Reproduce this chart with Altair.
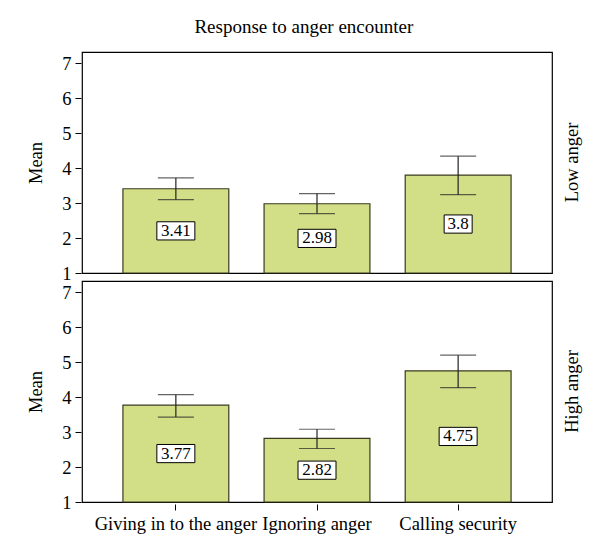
import altair as alt
import pandas as pd

categories = ["Giving in to the anger", "Ignoring anger", "Calling security"]
conditions = ["Low anger", "High anger"]

low_means = [3.41, 2.98, 3.80]
low_lo = [3.10, 2.70, 3.24]
low_hi = [3.72, 3.27, 4.34]
low_labels = ["3.41", "2.98", "3.8"]

high_means = [3.77, 2.82, 4.75]
high_lo = [3.43, 2.53, 4.27]
high_hi = [4.07, 3.08, 5.20]
high_labels = ["3.77", "2.82", "4.75"]

rows = []
for cond, means, los, his, labs in [
    ("Low anger", low_means, low_lo, low_hi, low_labels),
    ("High anger", high_means, high_lo, high_hi, high_labels),
]:
    for c, m, lo, hi, lab in zip(categories, means, los, his, labs):
        mid = (1 + m) / 2
        rows.append(dict(cat=c, cond=cond, mean=m, lo=lo, hi=hi, label=lab,
                         mid=mid, blo=mid - 0.26, bhi=mid + 0.26,
                         wide=len(lab) > 3, base=1))
df = pd.DataFrame(rows)

FONT = "Liberation Serif"
FS = 18.5
ymax = 7.32

xaxis = alt.Axis(labelAngle=0, labelFontSize=FS, labelFont=FONT,
                 labelColor="black", tickColor="black", tickSize=6,
                 domain=False, labelPadding=4)
xscale = alt.Scale(paddingInner=0.25, paddingOuter=0.29)
yscale = alt.Scale(domain=[1, ymax], nice=False, zero=False)
yaxis = alt.Axis(values=[1, 2, 3, 4, 5, 6, 7], labelFontSize=FS, labelFont=FONT,
                 labelColor="black", tickColor="black", tickSize=6, grid=False,
                 domain=False, title="Mean", titleFont=FONT, titleFontSize=FS,
                 titleFontWeight="normal", titleColor="black", titlePadding=16,
                 labelPadding=4, labelOverlap=False, labelBound=False)


def xx():
    return alt.X("cat:N", sort=categories, title=None, scale=xscale, axis=xaxis)


def yy(field):
    return alt.Y(field, scale=yscale, axis=yaxis)


bars = alt.Chart().mark_bar(color="#d3df87", stroke="#3a3a22", strokeWidth=1.2).encode(
    x=xx(), y=yy("mean:Q"), y2="base:Q")
rule = alt.Chart().mark_rule(color="#222", strokeWidth=1.2).encode(
    x=xx(), y=yy("lo:Q"), y2="hi:Q")
tick_lo = alt.Chart().mark_tick(color="#222", thickness=1.2, size=36, orient="horizontal").encode(
    x=xx(), y=yy("lo:Q"))
tick_hi = alt.Chart().mark_tick(color="#222", thickness=1.2, size=36, orient="horizontal").encode(
    x=xx(), y=yy("hi:Q"))
box_w = alt.Chart().transform_filter("datum.wide").mark_bar(
    width=38, color="white", stroke="black", strokeWidth=1).encode(
    x=xx(), y=yy("blo:Q"), y2="bhi:Q")
box_n = alt.Chart().transform_filter("!datum.wide").mark_bar(
    width=28, color="white", stroke="black", strokeWidth=1).encode(
    x=xx(), y=yy("blo:Q"), y2="bhi:Q")
text = alt.Chart().mark_text(font=FONT, fontSize=17, color="black", baseline="middle").encode(
    x=xx(), y=yy("mid:Q"), text="label:N")

layer = alt.layer(bars, rule, tick_lo, tick_hi, box_w, box_n, text).properties(
    width=470, height=221)

chart = layer.facet(
    data=df,
    row=alt.Row("cond:N", sort=conditions, title=None,
                header=alt.Header(labelOrient="right", labelAngle=-90,
                                  labelFont=FONT, labelFontSize=FS,
                                  labelColor="black", labelPadding=0)),
    spacing=5,
).properties(
    title=alt.TitleParams("Response to anger encounter", font=FONT, fontSize=19,
                          fontWeight="normal", color="black", offset=14,
                          anchor="middle"),
    padding={"left": 18, "top": 10, "right": 5, "bottom": 5},
).configure_view(stroke="black", strokeWidth=1.2)

chart.save("out.html", embed_options={"renderer": "svg", "actions": False})
